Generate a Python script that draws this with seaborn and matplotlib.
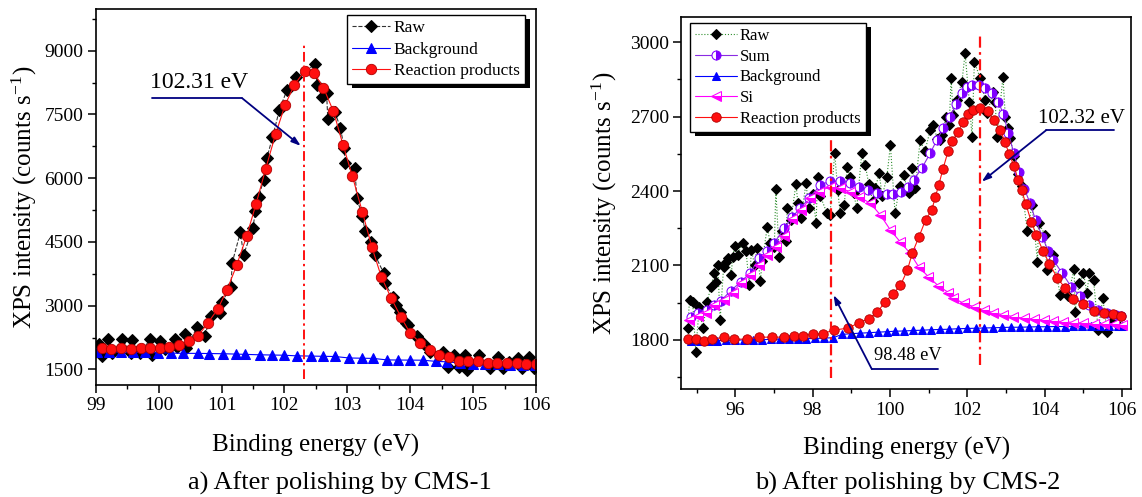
import matplotlib
matplotlib.use('Agg')
import matplotlib.pyplot as plt
from matplotlib.patches import Rectangle
from matplotlib.ticker import MultipleLocator
import seaborn as sns

# ---- panel a: after polishing by CMS-1 ----
raw_a_x = [99.05, 99.10, 99.19, 99.26, 99.42, 99.56, 99.58, 99.71, 99.87, 99.89,
           100.03, 100.10, 100.26, 100.29, 100.42, 100.44, 100.61, 100.73, 100.84, 100.98,
           101.01, 101.15, 101.17, 101.30, 101.35, 101.50, 101.54, 101.59, 101.67, 101.72,
           101.81, 101.92, 102.04, 102.18, 102.49, 102.52, 102.60, 102.67, 102.69, 102.80,
           102.89, 102.95, 102.97, 103.12, 103.15, 103.24, 103.28, 103.38, 103.44, 103.58,
           103.60, 103.72, 103.77, 103.83, 103.93, 103.97, 104.10, 104.13, 104.22, 104.32,
           104.52, 104.60, 104.70, 104.77, 104.87, 104.91, 105.09, 105.26, 105.39, 105.48,
           105.57, 105.71, 105.77, 105.88, 105.97]
raw_a_y = [2099, 1816, 2216, 1879, 2216, 1879, 2193, 1894, 2216, 1840,
           2177, 1990, 2216, 2035, 2333, 1997, 2491, 2294, 2758, 2821,
           3094, 3447, 4012, 4727, 4193, 4835, 5235, 5565, 5958, 6468,
           6962, 7605, 8075, 8374, 8680, 8193, 7903, 7997, 7386, 7560,
           7188, 6703, 6350, 6233, 5527, 5114, 4758, 4492, 4193, 3762,
           3527, 3212, 3016, 2859, 2586, 2546, 2287, 2232, 2099, 1917,
           1917, 1565, 1840, 1565, 1840, 1487, 1840, 1527, 1800, 1527,
           1682, 1762, 1527, 1800, 1527]

bg_a_x = [99.02, 99.21, 99.40, 99.60, 99.79, 99.99, 100.19, 100.39, 100.62, 100.80,
          101.02, 101.23, 101.38, 101.61, 101.80, 101.99, 102.20, 102.42, 102.61, 102.80,
          103.03, 103.23, 103.41, 103.63, 103.81, 104.00, 104.20, 104.41, 104.58, 104.79,
          104.99, 105.19, 105.39, 105.59, 105.79, 105.99]
bg_a_y = [1920, 1915, 1910, 1905, 1900, 1895, 1885, 1880, 1878, 1875,
          1870, 1862, 1855, 1845, 1840, 1835, 1820, 1815, 1810, 1805,
          1770, 1765, 1760, 1725, 1722, 1720, 1718, 1690, 1680, 1650,
          1640, 1630, 1620, 1615, 1605, 1600]

rp_a_x = [99.10, 99.25, 99.40, 99.56, 99.72, 99.87, 100.02, 100.17, 100.32, 100.48,
          100.63, 100.78, 100.94, 101.09, 101.24, 101.40, 101.55, 101.70, 101.86, 102.01,
          102.16, 102.32, 102.47, 102.62, 102.78, 102.93, 103.08, 103.24, 103.39, 103.54,
          103.70, 103.85, 104.00, 104.16, 104.31, 104.46, 104.62, 104.77, 104.92, 105.08,
          105.23, 105.38, 105.54, 105.69, 105.84, 106.00]
rp_a_y = [1995, 1990, 1995, 1990, 1995, 1995, 2005, 2030, 2075, 2160,
          2290, 2590, 2920, 3380, 3950, 4640, 5400, 6210, 7040, 7720,
          8200, 8520, 8480, 8130, 7570, 6790, 6050, 5200, 4380, 3680,
          3170, 2740, 2350, 2130, 1960, 1840, 1790, 1710, 1705, 1705,
          1660, 1660, 1650, 1645, 1640, 1640]

# ---- panel b: after polishing by CMS-2 ----
raw_b_x = [94.77, 94.82, 94.90, 94.98, 95.07, 95.16, 95.28, 95.37, 95.46, 95.50,
           95.55, 95.61, 95.70, 95.76, 95.82, 95.90, 95.93, 96.00, 96.06, 96.19,
           96.28, 96.36, 96.42, 96.50, 96.56, 96.65, 96.70, 96.83, 96.90, 97.01,
           97.05, 97.14, 97.20, 97.30, 97.35, 97.44, 97.57, 97.62, 97.70, 97.83,
           97.90, 98.00, 98.09, 98.13, 98.20, 98.37, 98.45, 98.57, 98.65, 98.71,
           98.82, 98.89, 98.97, 99.06, 99.14, 99.27, 99.36, 99.45, 99.55, 99.62,
           99.72, 99.80, 99.92, 100.01, 100.13, 100.25, 100.35, 100.48, 100.57, 100.65,
           100.78, 100.90, 101.04, 101.12, 101.22, 101.30, 101.35, 101.45, 101.53, 101.58,
           101.63, 101.72, 101.86, 101.94, 102.05, 102.12, 102.18, 102.33, 102.46, 102.51,
           102.67, 102.72, 102.76, 102.92, 102.98, 103.06, 103.11, 103.20, 103.30, 103.40,
           103.55, 103.67, 103.81, 103.84, 104.01, 104.05, 104.20, 104.40, 104.59, 104.76,
           104.78, 104.89, 105.00, 105.09, 105.15, 105.26, 105.38, 105.50, 105.61, 105.75,
           105.90]
raw_b_y = [1847, 1961, 1954, 1753, 1934, 1847, 1954, 2015, 2069, 2035,
           2100, 1880, 2095, 2116, 2129, 2060, 2136, 2180, 2143, 2190,
           2160, 2022, 2163, 2100, 2170, 2039, 2120, 2257, 2190, 2176,
           2407, 2136, 2240, 2200, 2331, 2284, 2429, 2350, 2291, 2432,
           2330, 2390, 2271, 2458, 2380, 2311, 2304, 2553, 2405, 2311,
           2344, 2499, 2458, 2391, 2331, 2553, 2505, 2430, 2360, 2411,
           2472, 2380, 2458, 2586, 2311, 2420, 2465, 2391, 2492, 2411,
           2606, 2560, 2646, 2667, 2610, 2606, 2626, 2700, 2667, 2855,
           2707, 2767, 2841, 2956, 2760, 2619, 2922, 2855, 2767, 2714,
           2801, 2761, 2619, 2861, 2700, 2653, 2613, 2540, 2470, 2420,
           2239, 2344, 2116, 2271, 2223, 2082, 2143, 1981, 1975, 2085,
           1914, 2029, 2069, 1988, 2071, 2042, 1840, 1968, 1830, 1880,
           1860]

sum_b_x = [94.86, 95.04, 95.27, 95.45, 95.63, 95.89, 96.15, 96.39, 96.62, 96.83,
           97.01, 97.27, 97.48, 97.68, 97.91, 98.20, 98.45, 98.71, 98.97, 99.19,
           99.44, 99.66, 99.92, 100.09, 100.29, 100.46, 100.61, 100.82, 101.04, 101.21,
           101.38, 101.56, 101.70, 101.85, 101.98, 102.12, 102.29, 102.46, 102.63, 102.80,
           102.93, 103.06, 103.20, 103.34, 103.47, 103.62, 103.76, 103.94, 104.08, 104.22,
           104.45, 104.68, 104.92, 105.15, 105.38, 105.61, 105.84, 105.98]
sum_b_y = [1894, 1910, 1921, 1940, 1958, 1999, 2035, 2071, 2129, 2160,
           2192, 2250, 2297, 2331, 2371, 2425, 2440, 2440, 2434, 2418,
           2405, 2394, 2390, 2388, 2398, 2418, 2445, 2492, 2553, 2606,
           2653, 2700, 2750, 2794, 2818, 2828, 2828, 2815, 2794, 2761,
           2710, 2633, 2553, 2478, 2410, 2351, 2284, 2216, 2160, 2122,
           2069, 2015, 1975, 1941, 1921, 1908, 1901, 1897]

bg_b_x = [94.85, 95.08, 95.31, 95.54, 95.77, 96.00, 96.23, 96.46, 96.69, 96.92,
          97.15, 97.38, 97.61, 97.84, 98.07, 98.30, 98.53, 98.76, 98.99, 99.22,
          99.45, 99.68, 99.91, 100.14, 100.37, 100.60, 100.83, 101.06, 101.29, 101.52,
          101.75, 101.98, 102.21, 102.44, 102.67, 102.90, 103.13, 103.36, 103.59, 103.82,
          104.05, 104.28, 104.51, 104.74, 104.97, 105.20, 105.43, 105.66, 105.89, 106.00]
bg_b_y = [1795, 1796, 1797, 1797, 1798, 1799, 1800, 1800, 1801, 1802,
          1803, 1803, 1804, 1805, 1806, 1807, 1809, 1822, 1825, 1827,
          1829, 1831, 1833, 1835, 1836, 1838, 1839, 1841, 1842, 1843,
          1845, 1846, 1847, 1848, 1849, 1850, 1851, 1851, 1852, 1853,
          1853, 1854, 1854, 1855, 1855, 1855, 1856, 1856, 1856, 1856]

si_b_x = [94.81, 95.03, 95.24, 95.46, 95.70, 95.93, 96.15, 96.39, 96.62, 96.83,
          97.05, 97.27, 97.48, 97.70, 97.94, 98.17, 98.45, 98.71, 98.97, 99.19,
          99.49, 99.75, 100.01, 100.26, 100.52, 100.74, 100.99, 101.25, 101.51, 101.64,
          101.90, 102.16, 102.42, 102.67, 102.93, 103.19, 103.45, 103.71, 103.97, 104.22,
          104.48, 104.74, 105.00, 105.26, 105.52, 105.78, 106.00]
si_b_y = [1880, 1897, 1907, 1941, 1961, 1991, 2029, 2062, 2102, 2143,
          2176, 2219, 2287, 2324, 2371, 2398, 2418, 2411, 2398, 2378,
          2351, 2304, 2243, 2196, 2149, 2095, 2055, 2018, 1991, 1968,
          1948, 1934, 1921, 1910, 1901, 1894, 1887, 1884, 1880, 1876,
          1874, 1870, 1867, 1866, 1864, 1863, 1862]

rp_b_x = [94.77, 94.98, 95.20, 95.41, 95.72, 95.97, 96.30, 96.62, 96.94, 97.27,
          97.52, 97.74, 98.00, 98.26, 98.54, 98.92, 99.20, 99.45, 99.67, 99.88,
          100.08, 100.27, 100.45, 100.58, 100.75, 100.92, 101.08, 101.17, 101.26, 101.37,
          101.50, 101.60, 101.77, 101.89, 102.02, 102.14, 102.33, 102.52, 102.68, 102.85,
          102.97, 103.08, 103.21, 103.31, 103.40, 103.51, 103.65, 103.78, 103.95, 104.12,
          104.32, 104.53, 104.74, 105.00, 105.27, 105.52, 105.75, 105.98]
rp_b_y = [1803, 1803, 1797, 1803, 1811, 1803, 1803, 1811, 1811, 1811,
          1816, 1816, 1824, 1824, 1840, 1847, 1870, 1885, 1912, 1954,
          1986, 2020, 2082, 2152, 2216, 2284, 2324, 2375, 2425, 2490,
          2560, 2600, 2640, 2680, 2712, 2727, 2734, 2722, 2687, 2646,
          2599, 2548, 2500, 2445, 2405, 2348, 2277, 2223, 2160, 2107,
          2051, 2008, 1966, 1945, 1918, 1910, 1905, 1897]

peaks_a = [102.31]
peaks_b = [98.48, 102.32]

sns.set_theme(style='ticks', rc={
    'axes.edgecolor': 'black', 'axes.linewidth': 1.2,
    'xtick.color': 'black', 'ytick.color': 'black',
    'text.color': 'black', 'axes.labelcolor': 'black',
})
plt.rcParams['font.family'] = ['Liberation Serif', 'DejaVu Serif']
plt.rcParams['mathtext.fontset'] = 'stix'

NAVY = '#000080'
RED = '#FF1010'

fig = plt.figure(figsize=(11.42, 4.97), dpi=100)
ax_a = fig.add_axes([0.0838, 0.2254, 0.3856, 0.7565])
ax_b = fig.add_axes([0.5967, 0.2173, 0.3934, 0.7485])

line_kw = dict(estimator=None, sort=False)

# panel a curves
sns.lineplot(x=raw_a_x, y=raw_a_y, ax=ax_a, color='#333333', lw=0.8, linestyle='--',
             marker='D', markersize=6, markerfacecolor='black', markeredgecolor='black',
             label='Raw', **line_kw)
sns.lineplot(x=bg_a_x, y=bg_a_y, ax=ax_a, color='#0000FF', lw=0.8,
             marker='^', markersize=7.5, markeredgecolor='#0000FF', label='Background', **line_kw)
sns.lineplot(x=rp_a_x, y=rp_a_y, ax=ax_a, color=RED, lw=0.8,
             marker='o', markersize=7.5, markerfacecolor=RED, markeredgecolor='#B00000',
             markeredgewidth=0.6, label='Reaction products', **line_kw)

# panel b curves
sns.lineplot(x=raw_b_x, y=raw_b_y, ax=ax_b, color='#2F8F2F', lw=0.8, linestyle=':',
             marker='D', markersize=4.6, markerfacecolor='black', markeredgecolor='black',
             label='Raw', **line_kw)
sns.lineplot(x=sum_b_x, y=sum_b_y, ax=ax_b, color='#8A2BE2', lw=0.8,
             marker='o', markersize=6.5, fillstyle='right', markerfacecolor='#7F00FF',
             markerfacecoloralt='white', markeredgecolor='#7F00FF', label='Sum', **line_kw)
sns.lineplot(x=bg_b_x, y=bg_b_y, ax=ax_b, color='#0000FF', lw=0.8,
             marker='^', markersize=6, markeredgecolor='#0000FF', label='Background', **line_kw)
sns.lineplot(x=si_b_x, y=si_b_y, ax=ax_b, color='#FF00FF', lw=0.8,
             marker='<', markersize=6.5, fillstyle='bottom', markerfacecolor='#FF00FF',
             markerfacecoloralt='white', markeredgecolor='#FF00FF', label='Si', **line_kw)
sns.lineplot(x=rp_b_x, y=rp_b_y, ax=ax_b, color=RED, lw=0.8,
             marker='o', markersize=6.8, markerfacecolor=RED, markeredgecolor='#B00000',
             markeredgewidth=0.6, label='Reaction products', **line_kw)

# peak position guides
dashdot = (0, (5, 2, 1.2, 2))
ax_a.vlines(peaks_a[0], 1276, 9134, colors=RED, linestyles=[dashdot], lw=1.4, zorder=4)
ax_b.vlines(peaks_b[0], 1647, 2700, colors=RED, linestyles=[dashdot], lw=1.6, zorder=4)
ax_b.vlines(peaks_b[1], 1700, 3025, colors=RED, linestyles=[dashdot], lw=1.6, zorder=4)


def callout(ax, label, tx, ty, size, start, elbow, tip):
    ax.text(tx, ty, label, ha='center', va='baseline', fontsize=size, zorder=6)
    ax.plot([start[0], elbow[0]], [start[1], elbow[1]], color=NAVY, lw=1.3, zorder=6)
    ax.annotate('', xy=tip, xytext=elbow, zorder=6,
                arrowprops=dict(arrowstyle='-|>,head_length=0.45,head_width=0.15',
                                color=NAVY, lw=1.3, shrinkA=0, shrinkB=0))


callout(ax_a, '102.31 eV', 100.64, 8115, 17, (99.89, 7880), (101.33, 7880), (102.26, 6760))
callout(ax_b, '102.32 eV', 104.96, 2673, 15, (105.79, 2646), (104.04, 2646), (102.37, 2438))
callout(ax_b, '98.48 eV', 100.47, 1719, 13.2, (101.25, 1682), (99.53, 1682), (98.54, 1981))

ylab = 'XPS intensity (counts s$^{\\mathregular{-1}}$)'
for ax, xlim, ylim, xmaj, xmin, ymaj, ymin, ylx in [
        (ax_a, (99, 106), (1135, 9981), 1, 0.5, 1500, 750, -0.163),
        (ax_b, (94.61, 106.22), (1602, 3102), 2, 1, 300, 150, -0.172)]:
    ax.set_xlim(*xlim)
    ax.set_ylim(*ylim)
    ax.xaxis.set_major_locator(MultipleLocator(xmaj))
    ax.xaxis.set_minor_locator(MultipleLocator(xmin))
    ax.yaxis.set_major_locator(MultipleLocator(ymaj))
    ax.yaxis.set_minor_locator(MultipleLocator(ymin))
    ax.tick_params(which='major', direction='out', length=6, width=1.1, labelsize=14, pad=3)
    ax.tick_params(which='minor', direction='out', length=3, width=1.0)
    ax.set_xlabel('Binding energy (eV)', fontsize=18)
    ax.set_ylabel(ylab, fontsize=18)
    ax.xaxis.label.set_va('center')
    ax.yaxis.label.set_va('center')
    ax.xaxis.set_label_coords(0.5, -0.16)
    ax.yaxis.set_label_coords(ylx, 0.5)
    for s in ax.spines.values():
        s.set_linewidth(1.2)
        s.set_color('black')

leg_kw = dict(frameon=True, fancybox=False, framealpha=1, edgecolor='black',
              numpoints=1, borderaxespad=0, handletextpad=0.2, borderpad=0.3,
              bbox_transform=fig.transFigure)
leg_a = ax_a.legend(loc='upper right', bbox_to_anchor=(0.4597, 0.9698), fontsize=12.5,
                    handlelength=2.2, labelspacing=0.3, **leg_kw)
leg_b = ax_b.legend(loc='upper left', bbox_to_anchor=(0.6042, 0.9537), fontsize=12,
                    handlelength=2.5, labelspacing=0.28, **leg_kw)
for leg in (leg_a, leg_b):
    leg.get_frame().set_linewidth(1.0)
    leg.set_zorder(8)

fig.text(0.298, 0.028, 'a) After polishing by CMS-1', ha='center', va='center', fontsize=19)
fig.text(0.795, 0.028, 'b) After polishing by CMS-2', ha='center', va='center', fontsize=19)

# solid drop shadow behind each legend box
fig.canvas.draw()
for ax, leg in ((ax_a, leg_a), (ax_b, leg_b)):
    bb = leg.get_window_extent()
    inv = ax.transAxes.inverted()
    x0, y0 = inv.transform((bb.x0 + 5, bb.y0 - 4))
    x1, y1 = inv.transform((bb.x1 + 5, bb.y1 - 4))
    ax.add_patch(Rectangle((x0, y0), x1 - x0, y1 - y0, transform=ax.transAxes,
                           facecolor='black', edgecolor='none', zorder=7.9, clip_on=False))

fig.savefig('out.png', dpi=100)
